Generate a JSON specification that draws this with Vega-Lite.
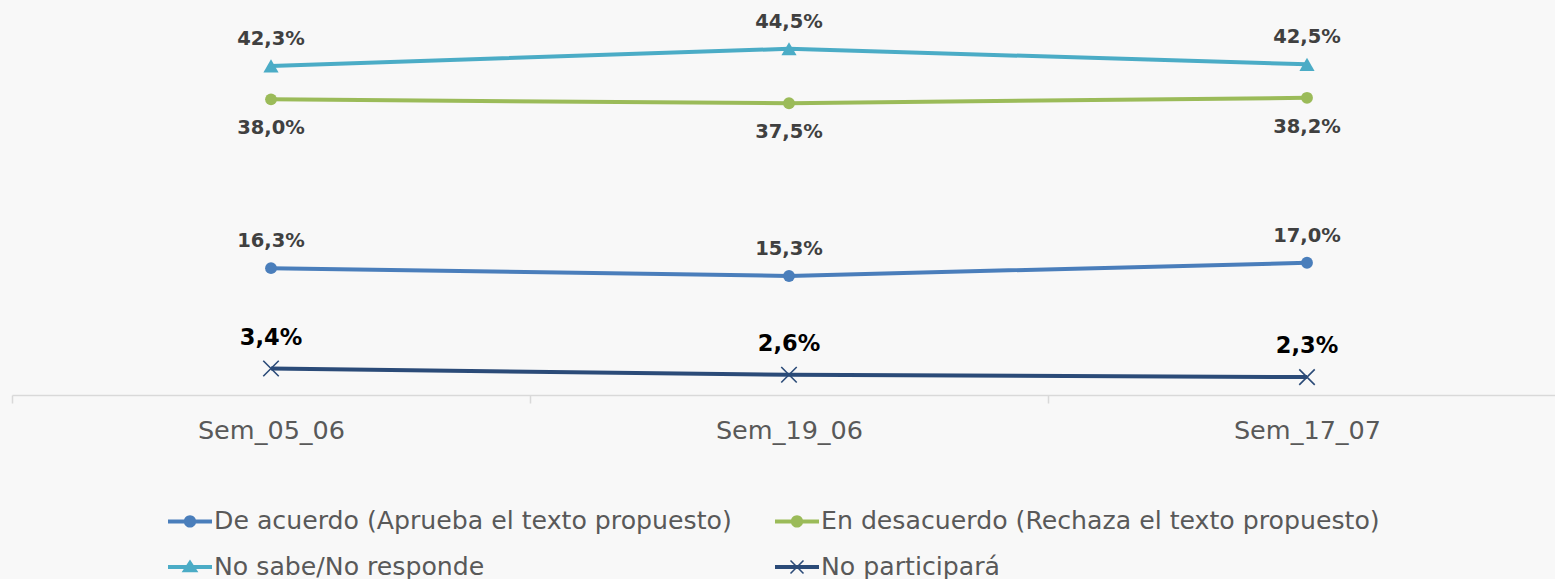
{
  "$schema": "https://vega.github.io/schema/vega-lite/v6.json",
  "autosize": "none",
  "width": 1543,
  "height": 389,
  "padding": {"left": 12, "top": 6, "right": 0, "bottom": 184},
  "background": "#f8f8f8",
  "config": {
    "view": {"stroke": null},
    "locale": {"number": {"decimal": ",", "thousands": ".", "grouping": [3], "currency": ["", " €"]}},
    "font": "DejaVu Sans"
  },
  "data": {"values": [
    {"sem": "Sem_05_06", "serie": "De acuerdo (Aprueba el texto propuesto)", "v": 0.163},
    {"sem": "Sem_19_06", "serie": "De acuerdo (Aprueba el texto propuesto)", "v": 0.153},
    {"sem": "Sem_17_07", "serie": "De acuerdo (Aprueba el texto propuesto)", "v": 0.170},
    {"sem": "Sem_05_06", "serie": "En desacuerdo (Rechaza el texto propuesto)", "v": 0.380},
    {"sem": "Sem_19_06", "serie": "En desacuerdo (Rechaza el texto propuesto)", "v": 0.375},
    {"sem": "Sem_17_07", "serie": "En desacuerdo (Rechaza el texto propuesto)", "v": 0.382},
    {"sem": "Sem_05_06", "serie": "No sabe/No responde", "v": 0.423},
    {"sem": "Sem_19_06", "serie": "No sabe/No responde", "v": 0.445},
    {"sem": "Sem_17_07", "serie": "No sabe/No responde", "v": 0.425},
    {"sem": "Sem_05_06", "serie": "No participará", "v": 0.034},
    {"sem": "Sem_19_06", "serie": "No participará", "v": 0.026},
    {"sem": "Sem_17_07", "serie": "No participará", "v": 0.023}
  ]},
  "encoding": {
    "x": {"field": "sem", "type": "nominal", "sort": null,
      "scale": {"type": "band", "range": [0, 1554], "paddingInner": 0, "paddingOuter": 0},
      "axis": {"title": null, "labelAngle": 0, "labelFontSize": 25.5, "labelColor": "#595959", "labelFont": "DejaVu Sans",
        "domainColor": "#d9d9d9", "domainWidth": 1.5, "tickColor": "#d9d9d9", "tickWidth": 1.5, "tickSize": 8,
        "tickBand": "extent", "labelPadding": 15, "grid": false}},
    "y": {"field": "v", "type": "quantitative", "scale": {"domain": [0, 0.5], "nice": false, "zero": true}, "axis": null},
    "color": {"field": "serie", "type": "nominal",
      "scale": {"domain": ["De acuerdo (Aprueba el texto propuesto)", "En desacuerdo (Rechaza el texto propuesto)", "No sabe/No responde", "No participará"],
        "range": ["#4a7ebb", "#9bbb59", "#4bacc6", "#2b4b78"]},
      "legend": {"title": null, "orient": "none", "legendX": 156, "legendY": 493, "direction": "horizontal", "columns": 2,
        "labelFontSize": 25.2, "labelColor": "#595959", "labelFont": "DejaVu Sans", "labelLimit": 1000,
        "symbolSize": 1936, "symbolStrokeWidth": 0, "symbolOpacity": 1, "labelOffset": 2, "columnPadding": 43, "rowPadding": 10, "padding": 0}}
  },
  "layer": [
    {"mark": {"type": "line", "strokeWidth": 4}},
    {"transform": [{"filter": "datum.serie == 'De acuerdo (Aprueba el texto propuesto)' || datum.serie == 'En desacuerdo (Rechaza el texto propuesto)'"}],
      "mark": {"type": "point", "shape": "circle", "filled": true, "opacity": 1, "size": 140}},
    {"transform": [{"filter": "datum.serie == 'No sabe/No responde'"}],
      "mark": {"type": "point", "shape": "triangle-up", "filled": true, "opacity": 1, "size": 230}},
    {"transform": [{"filter": "datum.serie == 'No participará'"}],
      "mark": {"type": "point", "shape": "M-1,-1L1,1M1,-1L-1,1", "filled": false, "opacity": 1, "size": 240, "strokeWidth": 1.6}},
    {"mark": {"type": "point", "filled": true, "opacity": 0, "size": 10},
      "encoding": {"shape": {"field": "serie", "type": "nominal",
        "scale": {"domain": ["De acuerdo (Aprueba el texto propuesto)", "En desacuerdo (Rechaza el texto propuesto)", "No sabe/No responde", "No participará"],
          "range": [
            "M-1,-0.09H1V0.09H-1Z M-0.28,0A0.28,0.28 0 1,1 0.28,0A0.28,0.28 0 1,1 -0.28,0Z",
            "M-1,-0.09H1V0.09H-1Z M-0.28,0A0.28,0.28 0 1,1 0.28,0A0.28,0.28 0 1,1 -0.28,0Z",
            "M-1,-0.09H1V0.09H-1Z M0,-0.34L0.38,0.24L-0.38,0.24Z",
            "M-1,-0.09H1V0.09H-1Z M-0.32,-0.27L-0.27,-0.32L0,-0.05L0.27,-0.32L0.32,-0.27L0.05,0L0.32,0.27L0.27,0.32L0,0.05L-0.27,0.32L-0.32,0.27L-0.05,0Z"
          ]},
        "legend": {"title": null, "orient": "none", "legendX": 156, "legendY": 493, "direction": "horizontal", "columns": 2,
          "labelFontSize": 25.2, "labelColor": "#595959", "labelFont": "DejaVu Sans", "labelLimit": 1000,
          "symbolSize": 1936, "symbolStrokeWidth": 0, "symbolOpacity": 1, "labelOffset": 2, "columnPadding": 43, "rowPadding": 10, "padding": 0}}}},
    {"transform": [{"filter": "datum.serie == 'No sabe/No responde' || datum.serie == 'De acuerdo (Aprueba el texto propuesto)'"}],
      "mark": {"type": "text", "dy": -27, "fontSize": 19.5, "fontWeight": "bold", "font": "DejaVu Sans"},
      "encoding": {"text": {"field": "v", "type": "quantitative", "format": ".1%"}, "color": {"value": "#404040"}}},
    {"transform": [{"filter": "datum.serie == 'En desacuerdo (Rechaza el texto propuesto)'"}],
      "mark": {"type": "text", "dy": 29, "fontSize": 19.5, "fontWeight": "bold", "font": "DejaVu Sans"},
      "encoding": {"text": {"field": "v", "type": "quantitative", "format": ".1%"}, "color": {"value": "#404040"}}},
    {"transform": [{"filter": "datum.serie == 'No participará'"}],
      "mark": {"type": "text", "dy": -31, "fontSize": 22.5, "fontWeight": "bold", "font": "DejaVu Sans"},
      "encoding": {"text": {"field": "v", "type": "quantitative", "format": ".1%"}, "color": {"value": "#000000"}}}
  ]
}
